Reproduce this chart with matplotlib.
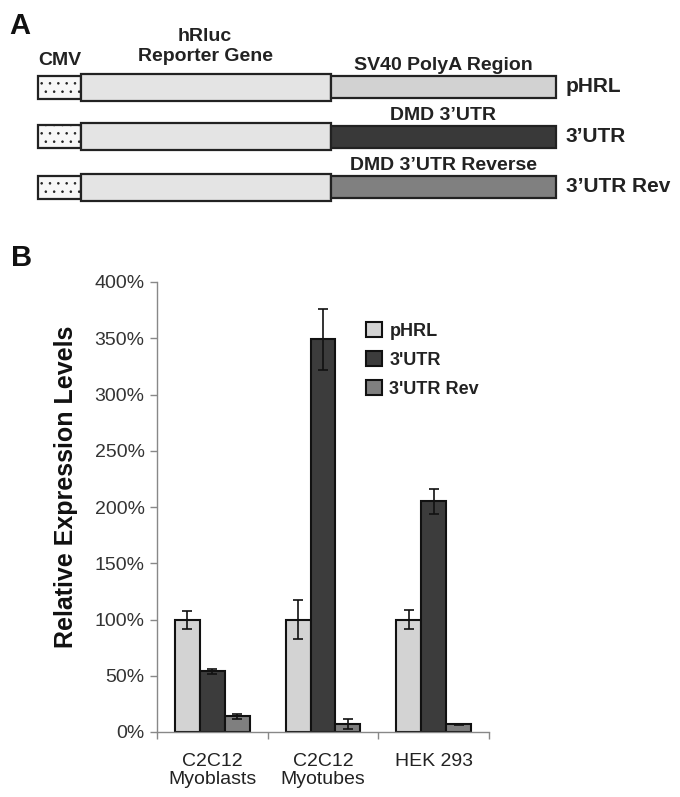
import matplotlib
matplotlib.use('Agg')
import matplotlib.pyplot as plt
from matplotlib.patches import Rectangle
import numpy as np

plt.rcParams['font.family'] = ['Liberation Sans', 'DejaVu Sans']
plt.rcParams['hatch.color'] = '#666666'
plt.rcParams['hatch.linewidth'] = 0.6

# bar chart data (relative expression, fraction of pHRL)
cells = ['C2C12\nMyoblasts', 'C2C12\nMyotubes', 'HEK 293']
series = ['pHRL', "3'UTR", "3'UTR Rev"]
phrl = [1.00, 1.00, 1.00]
phrl_err = [0.08, 0.17, 0.085]
utr = [0.54, 3.49, 2.05]
utr_err = [0.02, 0.27, 0.11]
utr_rev = [0.14, 0.07, 0.07]
utr_rev_err = [0.02, 0.045, 0.005]
bar_colors = ['#d3d3d3', '#3c3c3c', '#7f7f7f']
yticks = [0, 0.5, 1.0, 1.5, 2.0, 2.5, 3.0, 3.5, 4.0]

# construct diagram (panel A)
constructs = ['pHRL', '3\u2019UTR', '3\u2019UTR Rev']
tail_labels = ['SV40 PolyA Region', 'DMD 3\u2019UTR', 'DMD 3\u2019UTR Reverse']
tail_colors = ['#d2d2d2', '#393939', '#808080']

W, H = 680, 797
fig = plt.figure(figsize=(W / 100, H / 100), dpi=100)

# ---- panel A, drawn in pixel units ----
axa = fig.add_axes([0, 1 - 220 / H, 1, 220 / H])
axa.set_xlim(0, W)
axa.set_ylim(220, 0)
axa.axis('off')

row_y = [87, 136.5, 187]
for i, yc in enumerate(row_y):
    # CMV promoter
    axa.add_patch(Rectangle((38, yc - 11.5), 43, 23, facecolor='#f7f7f7',
                            edgecolor='#222222', lw=1.6, hatch='..'))
    # hRluc gene
    axa.add_patch(Rectangle((81, yc - 13.5), 250, 27, facecolor='#e4e4e4',
                            edgecolor='#222222', lw=1.6))
    # 3' region
    axa.add_patch(Rectangle((331, yc - 11), 225, 22, facecolor=tail_colors[i],
                            edgecolor='#222222', lw=1.6))
    axa.text(443, yc - 12.5, tail_labels[i], ha='center', va='bottom',
             fontsize=14, fontweight='bold', color='#222222')
    axa.text(566, yc, constructs[i], ha='left', va='center',
             fontsize=15, fontweight='bold', color='#222222')

axa.text(60, 65, 'CMV', ha='center', va='baseline', fontsize=14,
         fontweight='bold', color='#222222')
axa.text(205, 61, 'hRluc\nReporter Gene', ha='center', va='baseline',
         fontsize=14, fontweight='bold', color='#222222', linespacing=1.2)
axa.text(9, 34, 'A', ha='left', va='baseline', fontsize=21,
         fontweight='bold', color='#111111')

fig.text(11 / W, 1 - 266 / H, 'B', ha='left', va='baseline', fontsize=21,
         fontweight='bold', color='#111111')

# ---- panel B, bar chart ----
ax = fig.add_axes([157 / W, 1 - 732 / H, 332 / W, 450 / H])
x = np.arange(len(cells))
bw = 0.225
vals = [phrl, utr, utr_rev]
errs = [phrl_err, utr_err, utr_rev_err]
for k in range(3):
    ax.bar(x + (k - 1) * bw, vals[k], bw, yerr=errs[k], color=bar_colors[k],
           edgecolor='#111111', linewidth=1.5, label=series[k],
           error_kw=dict(ecolor='#111111', elinewidth=1.2, capsize=3.6,
                         capthick=1.2), zorder=2)

ax.set_xlim(-0.5, 2.5)
ax.set_ylim(0, 4.0)
ax.set_yticks(yticks)
ax.set_yticklabels(['%d%%' % round(v * 100) for v in yticks])
ax.set_xticks([-0.5, 0.5, 1.5, 2.5])
ax.set_xticklabels([])
ax.set_xticks(x, minor=True)
ax.set_xticklabels(cells, minor=True, fontsize=14, color='#222222',
                   linespacing=1.1)
ax.tick_params(axis='x', which='minor', length=0, pad=15)
ax.tick_params(axis='x', which='major', length=5, width=1, color='#888888')
ax.tick_params(axis='y', length=5, width=1, color='#888888', labelsize=14,
               labelcolor='#333333', pad=4)
for s in ['top', 'right']:
    ax.spines[s].set_visible(False)
for s in ['left', 'bottom']:
    ax.spines[s].set_color('#888888')
    ax.spines[s].set_linewidth(1.0)

ax.set_ylabel('Relative Expression Levels', fontsize=18, fontweight='bold',
              color='#111111')
ax.yaxis.set_label_coords(-0.238, 0.544)

leg = ax.legend(loc='upper left', bbox_to_anchor=(366 / W, 1 - 322 / H),
                bbox_transform=fig.transFigure, frameon=False,
                prop={'weight': 'bold', 'size': 13}, borderpad=0,
                borderaxespad=0, handlelength=0.9, handleheight=0.9,
                handletextpad=0.4, labelspacing=0.62)
for t in leg.get_texts():
    t.set_color('#222222')

fig.savefig('out.png', dpi=100)
